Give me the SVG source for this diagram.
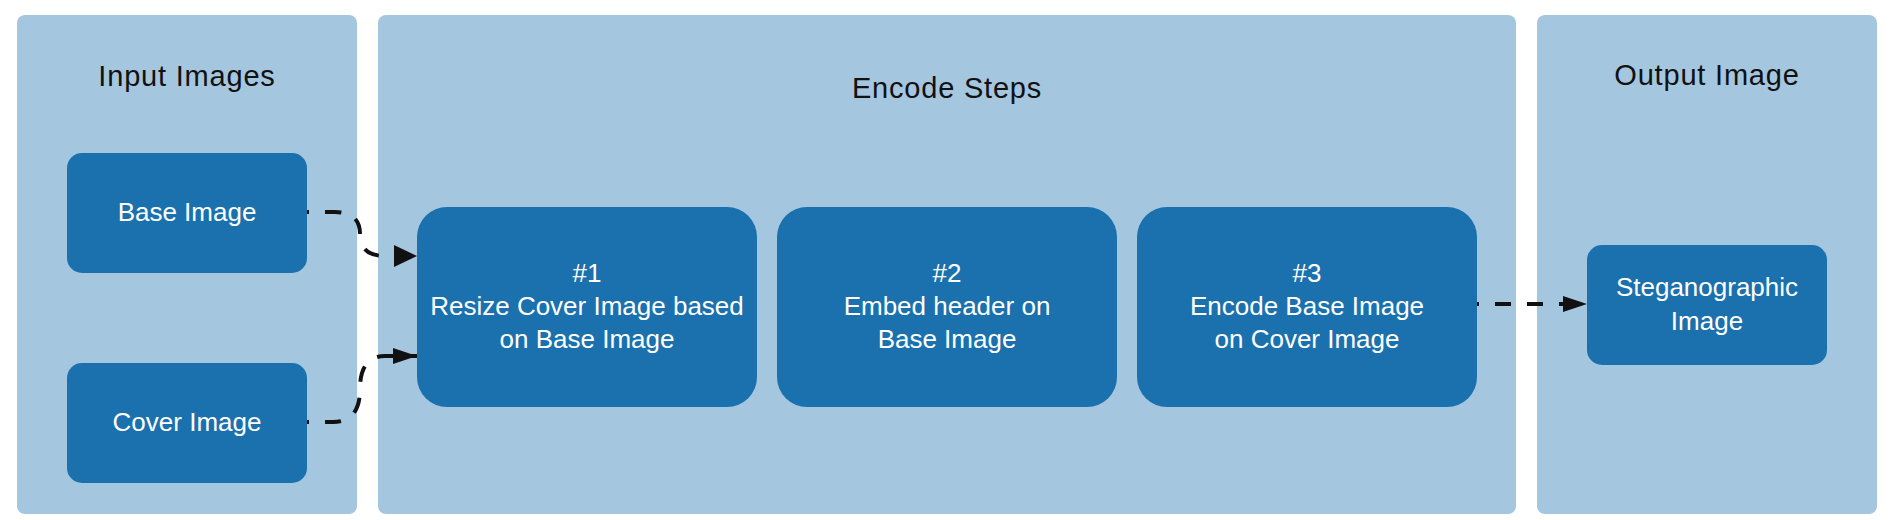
<svg xmlns="http://www.w3.org/2000/svg" width="1892" height="520" viewBox="0 0 1892 520">
<style>
.panel{fill:#a4c6df}
.node{fill:#1a71ad}
.title{font-family:"Liberation Sans",Arial,sans-serif;font-size:29px;letter-spacing:0.8px;fill:#111;text-anchor:middle}
.label{font-family:"Liberation Sans",Arial,sans-serif;font-size:26px;fill:#fff;text-anchor:middle}
.conn{fill:none;stroke:#111;stroke-width:4;stroke-dasharray:16 16;stroke-dashoffset:14}
</style>
<defs>
<marker id="arrow" markerUnits="userSpaceOnUse" markerWidth="24" markerHeight="16" refX="24" refY="8" orient="auto">
<path d="M0,0 L24,8 L0,16 Z" fill="#111"/>
</marker>
<marker id="arrowBig" markerUnits="userSpaceOnUse" markerWidth="23" markerHeight="22" refX="23" refY="11" orient="auto">
<path d="M0,0 L23,11 L0,22 Z" fill="#111"/>
</marker>
</defs>
<rect width="1892" height="520" fill="#fff"/>
<g id="panel-input">
<rect class="panel" x="17" y="15" width="340" height="499" rx="8"/>
<text class="title" x="187" y="86">Input Images</text>
</g>
<g id="panel-encode">
<rect class="panel" x="378" y="15" width="1138" height="499" rx="8"/>
<text class="title" x="947" y="98">Encode Steps</text>
</g>
<g id="panel-output">
<rect class="panel" x="1537" y="15" width="340" height="499" rx="8"/>
<text class="title" x="1707" y="85">Output Image</text>
</g>
<g id="node-base">
<rect class="node" x="67" y="153" width="240" height="120" rx="15"/>
<text class="label" x="187" y="221">Base Image</text>
</g>
<g id="node-cover">
<rect class="node" x="67" y="363" width="240" height="120" rx="15"/>
<text class="label" x="187" y="431">Cover Image</text>
</g>
<g id="node-step1">
<rect class="node" x="417" y="207" width="340" height="200" rx="30"/>
<text class="label" x="587" y="282">#1</text>
<text class="label" x="587" y="315">Resize Cover Image based</text>
<text class="label" x="587" y="348">on Base Image</text>
</g>
<g id="node-step2">
<rect class="node" x="777" y="207" width="340" height="200" rx="30"/>
<text class="label" x="947" y="282">#2</text>
<text class="label" x="947" y="315">Embed header on</text>
<text class="label" x="947" y="348">Base Image</text>
</g>
<g id="node-step3">
<rect class="node" x="1137" y="207" width="340" height="200" rx="30"/>
<text class="label" x="1307" y="282">#3</text>
<text class="label" x="1307" y="315">Encode Base Image</text>
<text class="label" x="1307" y="348">on Cover Image</text>
</g>
<g id="node-stego">
<rect class="node" x="1587" y="245" width="240" height="120" rx="15"/>
<text class="label" x="1707" y="296">Steganographic</text>
<text class="label" x="1707" y="330">Image</text>
</g>
<g id="connectors">
<path class="conn" d="M307,212 H335 Q360,212 360,234 Q360,256 385,256 H417" marker-end="url(#arrowBig)"/>
<path class="conn" d="M307,422 H333 Q360,422 360,389 Q360,356 385,356 H417" marker-end="url(#arrow)"/>
<path class="conn" d="M1477,304 H1587" marker-end="url(#arrow)"/>
</g>
</svg>
